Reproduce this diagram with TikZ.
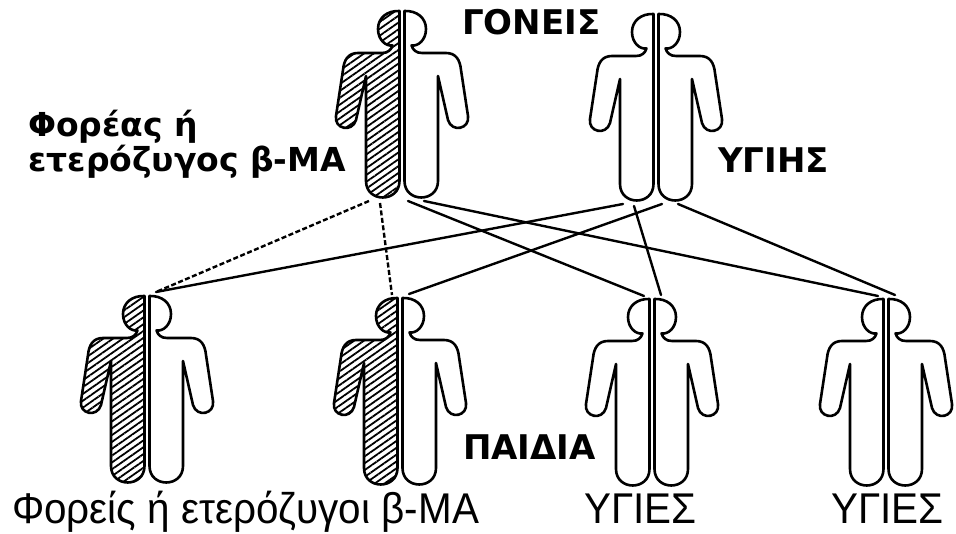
\documentclass[tikz,border=0pt]{standalone}
\usepackage{fontspec}
\setmainfont{Liberation Sans}
\newfontfamily\capsfont{DejaVu Sans}
\newfontfamily\narrowfont[FakeStretch=0.94]{Liberation Sans}
\usetikzlibrary{patterns.meta}

\tikzset{
  outline/.style={draw=black, line width=2.6pt, line join=round},
  hatched/.style={outline, preaction={fill=white},
    pattern={Lines[angle=35,distance=5.6pt,line width=1.8pt]}, pattern color=black},
  blank/.style={outline, fill=white},
  link/.style={draw=black, line width=2.4pt, line cap=round},
  dashlink/.style={link, line cap=butt, dash pattern=on 5pt off 2.5pt},
  toplabel/.style={font=\capsfont\bfseries\fontsize{34}{38}\selectfont, anchor=base west, inner sep=0pt},
  sidelabel/.style={toplabel, font=\capsfont\bfseries\fontsize{33}{37}\selectfont},
  bottomlabel/.style={font=\narrowfont\fontsize{43}{47}\selectfont, anchor=base west, inner sep=0pt},
  % one half of a standing figure, left side, y axis pointing down
  pics/halfbody/.style={code={
    \path[pic actions] (-2.5,1)
      .. controls (-15,0.5) and (-24,8) .. (-24,19)
      .. controls (-24,30) and (-16,36.5) .. (-9.5,35.5)
      .. controls (-11,40) and (-14,43) .. (-20,43)
      -- (-44,43)
      .. controls (-54,43) and (-58,50) .. (-59,60)
      -- (-66,106)
      .. controls (-68,119) and (-50,123) .. (-46,110)
      -- (-36,66)
      -- (-36,171)
      .. controls (-36,193) and (-2.5,193) .. (-2.5,171)
      -- cycle;
  }},
  pics/personanchors/.style={code={
    \coordinate (-l1) at (-33,191);
    \coordinate (-l2) at (-22,193);
    \coordinate (-r1) at (6,191);
    \coordinate (-r2) at (22,191);
    \coordinate (-hl) at (-8,-2);
    \coordinate (-hr) at (9,-3);
  }},
  pics/carrier/.style={code={
    \pic[hatched] {halfbody};
    \pic[blank, xscale=-1] {halfbody};
    \pic {personanchors};
  }},
  pics/healthy/.style={code={
    \pic[blank] {halfbody};
    \pic[blank, xscale=-1] {halfbody};
    \pic {personanchors};
  }},
}

\begin{document}
\begin{tikzpicture}[x=1pt, y=-1pt]
  \useasboundingbox[fill=white] (0,0) rectangle (956,534);

  % named anchors for the connectors
  \path (402,10) pic (p1) {personanchors};
  \path (656,13) pic (p2) {personanchors};
  \path (147,295) pic (c1) {personanchors};
  \path (400,297) pic (c2) {personanchors};
  \path (652,298) pic (c3) {personanchors};
  \path (886,298) pic (c4) {personanchors};

  % inheritance lines: dashed from the affected half of the carrier parent
  \draw[dashlink] (p1-l1) -- (c1-hr);
  \draw[dashlink] (p1-l2) -- (c2-hl);
  \draw[link] (p2-l1) -- (c1-hr);
  \draw[link] (p2-r1) -- (c2-hr);
  \draw[link] (p1-r1) -- (c3-hl);
  \draw[link] (p2-l2) -- (c3-hr);
  \draw[link] (p1-r2) -- (c4-hl);
  \draw[link] (p2-r2) -- (c4-hr);

  % parents
  \pic (f1) at (402,10) {carrier};
  \pic (f2) at (656,13) {healthy};
  % children
  \pic (k1) at (147,295) {carrier};
  \pic (k2) at (400,297) {carrier};
  \pic (k3) at (652,298) {healthy};
  \pic (k4) at (886,298) {healthy};

  % labels
  \node[toplabel] (goneis) at (462,35) {ΓΟΝΕΙΣ};
  \node[sidelabel] (foreas1) at (28,137) {Φορέας\hspace{0.35em}ή};
  \node[sidelabel] (foreas2) at (28,172) {ετερόζυγος β-ΜΑ};
  \node[toplabel] (ygihs) at (718,173) {ΥΓΙΗΣ};
  \node[toplabel] (paidia) at (463,460) {ΠΑΙΔΙΑ};
  \node[bottomlabel] (fores) at (12,523) {Φορείς ή ετερόζυγοι β-ΜΑ};
  \node[bottomlabel] (ygies1) at (584,523) {ΥΓΙΕΣ};
  \node[bottomlabel] (ygies2) at (831,523) {ΥΓΙΕΣ};
\end{tikzpicture}
\end{document}
